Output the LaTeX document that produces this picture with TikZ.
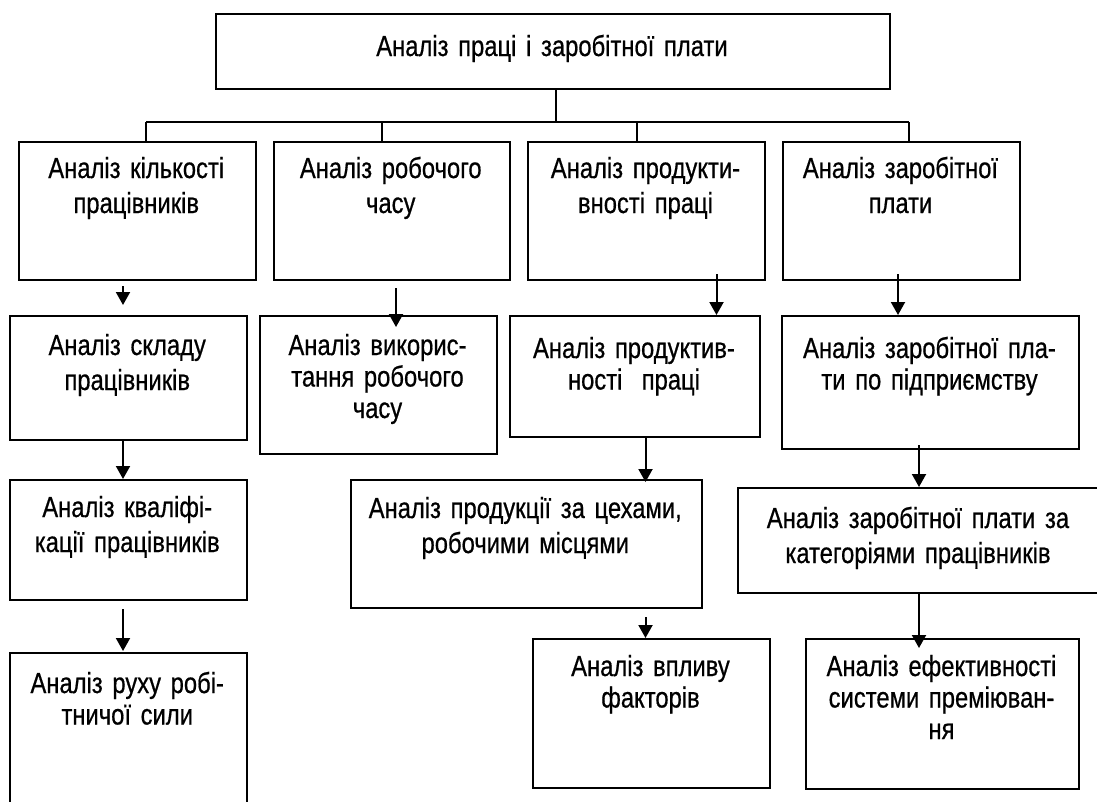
\documentclass[tikz,border=0pt]{standalone}
\usepackage{fontspec}
\setmainfont{Liberation Sans}[FakeStretch=0.82, FakeBold=0.6]
\usetikzlibrary{arrows.meta}

% block: [label options] name, left, top, right, bottom, first baseline, text
\newcommand\blk[8][]{%
  \node[box, minimum width={#5-#3}, minimum height={#6-#4}] (#2) at (#3,#4) {};
  \node[lbl, text width={#5-#3}, #1] (#2-t) at ({(#3+#5)/2},#7) {#8};}

\begin{document}
\begin{tikzpicture}[x=1pt, y=-1pt,
  box/.style={draw, line width=2pt, inner sep=0pt, anchor=north west},
  lbl/.style={anchor=base, align=center, inner sep=0pt,
              font=\fontsize{29}{35}\selectfont},
  tight/.style={font=\fontsize{29}{31.5}\selectfont},
  link/.style={line width=2pt},
  flow/.style={line width=2pt, -{Triangle[width=14pt,length=13pt]}}]
\useasboundingbox (0,0) rectangle (1097,801);
\fill[white] (0,0) rectangle (1097,801);

% root
\blk{top}{215}{13}{889}{88}{56}{Аналіз праці і заробітної плати}

% first level
\blk{b1}{17.5}{141}{255}{279}{178}{Аналіз кількості\\працівників}
\blk{b2}{272.5}{141}{509}{279}{178}{Аналіз робочого\\часу}
\blk{b3}{527}{141}{764}{279}{178}{Аналіз продукти-\\вності праці}
\blk{b4}{782}{141}{1019}{279}{178}{Аналіз заробітної\\плати}

% second level
\blk{b1b}{9}{315}{245.5}{439}{355}{Аналіз складу\\працівників}
\blk[tight]{b2b}{259}{315}{496}{453}{355}{Аналіз викорис-\\тання робочого\\часу}
\blk[tight]{b3b}{509}{315}{759}{436}{358}{Аналіз продуктив-\\ності\ \ праці}
\blk[tight]{b4b}{781}{315}{1078}{448}{358}{Аналіз заробітної пла-\\ти по підприємству}

% third level
\blk{b1c}{9}{479}{245.5}{599}{517}{Аналіз кваліфі-\\кації працівників}
\blk{b3c}{350}{479}{700.5}{607}{518}{Аналіз продукції за цехами,\\робочими місцями}
\blk{b4c}{737}{487}{1099}{592}{528}{Аналіз заробітної плати за\\категоріями працівників}

% fourth level
\blk[tight]{b1d}{9}{652}{245.5}{812}{693}{Аналіз руху робі-\\тничої сили}
\blk[tight]{b3d}{532}{638}{769}{787}{676}{Аналіз впливу\\факторів}
\blk[tight]{b4d}{805}{638}{1078}{788}{676}{Аналіз ефективності\\системи преміюван-\\ня}

% branching from the root
\coordinate (hub) at (556,122);
\coordinate (busL) at (146,122);
\coordinate (busR) at (909,122);
\coordinate (d2) at (382,122);
\coordinate (d3) at (637,122);
\draw[link] (hub |- top.south) -- (hub);
\draw[link] (busL) -- (busR);
\draw[link] (busL) -- (busL |- b1.north);
\draw[link] (d2) -- (d2 |- b2.north);
\draw[link] (d3) -- (d3 |- b3.north);
\draw[link] (busR) -- (busR |- b4.north);

% vertical lines of the arrows
\coordinate (cA) at (123,0);
\coordinate (cB) at (396,0);
\coordinate (cC) at (716.5,0);
\coordinate (cD) at (898,0);
\coordinate (cE) at (645.5,0);
\coordinate (cF) at (919,0);

\draw[flow, shorten <=5pt, shorten >=10pt] (cA |- b1.south) -- (cA |- b1b.north);
\draw[flow, shorten <=7pt, shorten >=-12pt] (cB |- b2.south) -- (cB |- b2b.north);
\draw[flow, shorten <=-7pt] (cC |- b3.south) -- (cC |- b3b.north);
\draw[flow, shorten <=-7pt] (cD |- b4.south) -- (cD |- b4b.north);

\draw[flow] (cA |- b1b.south) -- (cA |- b1c.north);
\draw[flow, shorten >=-3pt] (cE |- b3b.south) -- (cE |- b3c.north);
\draw[flow, shorten <=-5pt] (cF |- b4b.south) -- (cF |- b4c.north);

\draw[flow, shorten <=8pt, shorten >=1pt] (cA |- b1c.south) -- (cA |- b1d.north);
\draw[flow, shorten <=8pt] (cE |- b3c.south) -- (cE |- b3d.north);
\draw[flow, shorten >=-10pt] (cF |- b4c.south) -- (cF |- b4d.north);
\end{tikzpicture}
\end{document}
